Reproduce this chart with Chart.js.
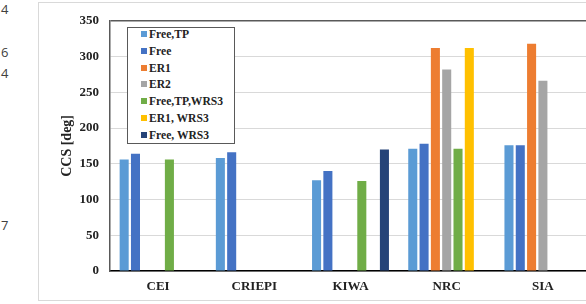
<!DOCTYPE html>
<html>
<head>
<meta charset="utf-8">
<script src="https://cdn.jsdelivr.net/npm/chart.js@4"></script>
<style>
  body { margin: 0; width: 586px; height: 304px; overflow: hidden; position: relative; background: #fff; }
  #frame { position: absolute; left: 38px; top: 2px; width: 600px; height: 299px; border: 1px solid #d9d9d9; box-sizing: border-box; }
  #wrap { position: absolute; left: 38px; top: 2px; width: 600px; height: 300px; }
  .stray { position: absolute; left: 1px; font: 13px "Open Sans", sans-serif; color: #404040; }
  #legend { position: absolute; left: 127px; top: 27px; width: 108px; height: 117px; box-sizing: border-box;
            border: 1px solid #595959; background: #fff; }
  .item { position: absolute; left: 13px; font: bold 11.6px "Liberation Serif", serif; color: #222; white-space: nowrap; }
  .sw { display: inline-block; width: 6px; height: 6px; margin-right: 2px; vertical-align: 1px; }
</style>
</head>
<body>
<div class="stray" style="top:0px">4</div>
<div class="stray" style="top:43px">6</div>
<div class="stray" style="top:64px">4</div>
<div class="stray" style="top:216px">7</div>
<div id="frame"></div>
<div id="wrap"><canvas id="myChart"></canvas></div>
<div id="legend"></div>
<script>
// data
const categories = ['CEI', 'CRIEPI', 'KIWA', 'NRC', 'SIA'];
const seriesNames = ['Free,TP', 'Free', 'ER1', 'ER2', 'Free,TP,WRS3', 'ER1, WRS3', 'Free, WRS3'];
const seriesColors = ['#5B9BD5', '#4472C4', '#ED7D31', '#A5A5A5', '#70AD47', '#FFC000', '#264478'];

const freeTP = [156, 158, 127, 171, 176];
const free = [164, 166, 140, 178, 176];
const er1 = [null, null, null, 312, 318];
const er2 = [null, null, null, 282, 266];
const freeTPWRS3 = [156, null, 126, 171, null];
const er1WRS3 = [null, null, null, 312, null];
const freeWRS3 = [null, null, 170, null, null];

const yTicks = [0, 50, 100, 150, 200, 250, 300, 350];

const allSeries = [freeTP, free, er1, er2, freeTPWRS3, er1WRS3, freeWRS3];

// legend (html box inside the plot)
const legend = document.getElementById("legend");
seriesNames.forEach(function (name, i) {
    let row = document.createElement("div");
    row.className = "item";
    row.style.top = (0 + i * 16.8) + "px";
    row.innerHTML = '<span class="sw" style="background:' + seriesColors[i] + '"></span>' + name;
    legend.appendChild(row);
});

const serif = "'Liberation Serif', 'Times New Roman', serif";

window.addEventListener("load", function () {
    const ctx = document.getElementById("myChart").getContext("2d");

    new Chart(ctx, {
        type: 'bar',
        data: {
            labels: categories,
            datasets: allSeries.map(function (vals, i) {
                return {
                    label: seriesNames[i],
                    data: vals,
                    backgroundColor: seriesColors[i],
                    borderWidth: 0,
                    categoryPercentage: 0.823,
                    barPercentage: 0.8
                };
            })
        },
        options: {
            responsive: true,
            maintainAspectRatio: false,
            animation: false,
            layout: { padding: { left: 17, top: 17, right: 47, bottom: 0 } },
            plugins: {
                legend: { display: false },
                tooltip: { enabled: false }
            },
            scales: {
                x: {
                    grid: { display: false, drawTicks: false },
                    border: { color: '#000', width: 1.5 },
                    ticks: { color: '#222', font: { family: serif, size: 13, weight: 'bold' }, padding: 8 },
                    afterFit: function (s) { s.height = 31; }
                },
                y: {
                    min: 0,
                    max: 350,
                    afterBuildTicks: function (s) { s.ticks = yTicks.map(function (v) { return { value: v }; }); },
                    grid: {
                        drawTicks: false,
                        color: function (c) { return c.tick && c.tick.value === 350 ? '#595959' : '#d9d9d9'; },
                        lineWidth: function (c) { return c.tick && c.tick.value === 350 ? 1.5 : 1; }
                    },
                    border: { color: '#595959', width: 1.5 },
                    ticks: { color: '#222', font: { family: serif, size: 13, weight: 'bold' }, padding: 11 },
                    title: {
                        display: true,
                        text: 'CCS [deg]',
                        color: '#222',
                        font: { family: serif, size: 14, weight: 'bold' },
                        padding: { top: 4, bottom: 0 }
                    },
                    afterFit: function (s) { s.width = 55; }
                }
            }
        }
    });
});
</script>
</body>
</html>
